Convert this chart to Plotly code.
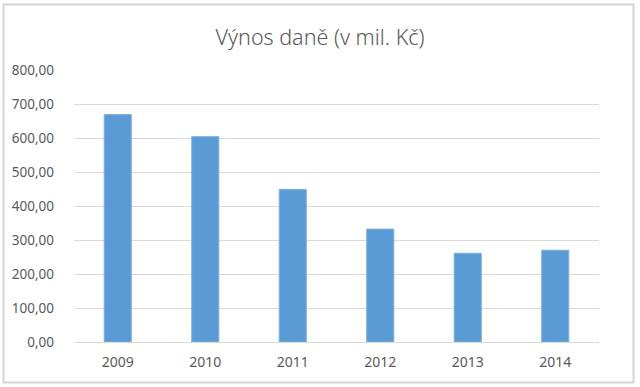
import plotly.graph_objects as go

years = ["2009", "2010", "2011", "2012", "2013", "2014"]
vynos = [669, 604, 449, 332, 261, 270]
y_ticks = [0, 100, 200, 300, 400, 500, 600, 700, 800]
title_text = "Výnos daně (v mil. Kč)"

W, H = 640, 387
L, R, T, B = 74, 41, 70, 45
pw, ph = W - L - R, H - T - B

fig = go.Figure(
    go.Bar(
        x=years,
        y=vynos,
        marker=dict(color="#5b9bd5", line=dict(color="#7fb0de", width=1)),
    )
)

def px_to_paper_x(px):
    return (px - L) / pw

def px_to_paper_y(py):
    return (H - B - py) / ph

fig.update_layout(
    width=W,
    height=H,
    margin=dict(l=L, r=R, t=T, b=B),
    paper_bgcolor="white",
    plot_bgcolor="white",
    separators=", ",
    bargap=0.69,
    showlegend=False,
    font=dict(family="Noto Sans", color="#595959", size=13.5),
    title=dict(
        text=title_text,
        x=0.5,
        xref="container",
        xanchor="center",
        y=1 - 37 / H,
        yref="container",
        yanchor="middle",
        font=dict(family="Noto Sans", size=21.5, color="#595959", weight=300),
    ),
    xaxis=dict(
        type="category",
        showgrid=False,
        showline=False,
        ticks="",
        ticklabelstandoff=10,
        tickfont=dict(size=14, color="#595959"),
    ),
    yaxis=dict(
        range=[0, 800],
        tickvals=y_ticks,
        tickformat=".2f",
        showgrid=True,
        gridcolor="#d9d9d9",
        gridwidth=1,
        zeroline=True,
        zerolinecolor="#d9d9d9",
        zerolinewidth=1,
        showline=False,
        ticks="",
        ticklabelstandoff=19,
        tickfont=dict(size=13.5, color="#595959"),
    ),
    shapes=[
        dict(
            type="rect",
            xref="paper",
            yref="paper",
            x0=px_to_paper_x(3.5),
            x1=px_to_paper_x(633.5),
            y0=px_to_paper_y(382.5),
            y1=px_to_paper_y(4.5),
            line=dict(color="#d4d4d4", width=2),
            fillcolor="rgba(0,0,0,0)",
            layer="above",
        )
    ],
)

fig.write_html(
    "out.html",
    config={"displayModeBar": False},
    post_script="document.body.style.margin='0';document.body.style.overflow='hidden';",
)
